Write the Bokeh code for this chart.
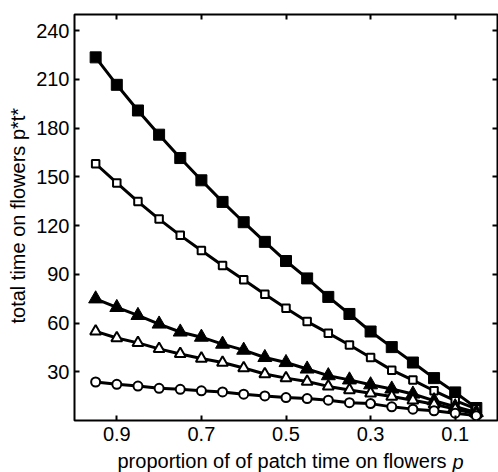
import math
from bokeh.plotting import figure
from bokeh.models import Range1d, FixedTicker, LinearAxis, Label, CustomJSTickFormatter
from bokeh.embed import file_html
from bokeh.resources import INLINE

# ---- data ----
p_values = [0.95, 0.90, 0.85, 0.80, 0.75, 0.70, 0.65, 0.60, 0.55, 0.50,
            0.45, 0.40, 0.35, 0.30, 0.25, 0.20, 0.15, 0.10, 0.05]
filled_squares = [223.6, 206.7, 190.9, 176.0, 161.6, 147.9, 134.6, 122.1, 110.0, 98.2,
                  87.5, 76.1, 65.6, 54.8, 45.2, 35.7, 26.1, 17.3, 7.7]
open_squares = [158.1, 146.3, 134.8, 124.0, 114.0, 104.7, 95.5, 86.7, 77.8, 69.1,
                60.9, 53.8, 46.5, 38.8, 31.0, 24.9, 18.3, 12.2, 7.1]
filled_triangles = [74.9, 69.6, 64.7, 59.4, 54.5, 51.3, 47.0, 43.3, 38.8, 35.7,
                    31.7, 27.6, 25.0, 22.0, 19.4, 16.3, 12.2, 8.5, 5.0]
open_triangles = [54.9, 50.8, 47.8, 44.1, 41.0, 38.2, 35.7, 32.3, 28.6, 26.1,
                  24.0, 21.0, 18.8, 16.8, 14.8, 12.5, 10.0, 7.0, 4.0]
open_circles = [23.7, 22.3, 21.2, 19.8, 19.2, 18.3, 17.6, 16.2, 15.1, 14.1,
                13.5, 12.5, 11.0, 10.4, 8.4, 7.0, 6.0, 4.5, 3.0]

x_ticks = [0.1, 0.3, 0.5, 0.7, 0.9]
y_ticks = [30, 60, 90, 120, 150, 180, 210, 240]

FONT = "Liberation Sans"
FS = "20px"

p = figure(width=498, height=472, output_backend="svg", toolbar_location=None,
           x_range=Range1d(1.0, 0.0), y_range=Range1d(0, 250),
           min_border_left=74, min_border_right=1, min_border_top=14, min_border_bottom=52,
           background_fill_color="white", border_fill_color="white")
p.xgrid.visible = False
p.ygrid.visible = False
p.outline_line_color = "black"
p.outline_line_width = 2

for ax, ticks, so in ((p.xaxis[0], x_ticks, 6), (p.yaxis[0], y_ticks, 5)):
    ax.ticker = FixedTicker(ticks=ticks)
    ax.major_tick_in = 5
    ax.major_tick_out = 0
    ax.major_tick_line_width = 2
    ax.minor_tick_line_color = None
    ax.axis_line_color = None
    ax.major_label_text_font = FONT
    ax.major_label_text_font_size = FS
    ax.major_label_text_color = "black"
    ax.major_label_standoff = so

empty = CustomJSTickFormatter(code="return ''")
top = LinearAxis(ticker=FixedTicker(ticks=x_ticks), formatter=empty,
                 major_tick_in=5, major_tick_out=0, major_tick_line_width=2,
                 minor_tick_line_color=None, axis_line_color=None, major_label_standoff=0)
right = LinearAxis(ticker=FixedTicker(ticks=y_ticks), formatter=empty,
                   major_tick_in=5, major_tick_out=0, major_tick_line_width=2,
                   minor_tick_line_color=None, axis_line_color=None, major_label_standoff=0)
p.add_layout(top, "above")
p.add_layout(right, "right")

LW = 3
series = [
    (filled_squares, "square", 11, "black", 1),
    (open_squares, "square", 7.5, "white", 2),
    (filled_triangles, "triangle", 14, "black", 1),
    (open_triangles, "triangle", 11, "white", 2),
    (open_circles, "circle", 9, "white", 2),
]
for ys, marker, size, fill, lw in series:
    p.line(p_values, ys, line_color="black", line_width=LW)
    p.scatter(p_values, ys, marker=marker, size=size, fill_color=fill,
              line_color="black", line_width=lw)

# axis titles, placed in the side panels (not clipped by the frame)
p.add_layout(Label(x=43, y=5, x_units="screen", y_units="screen",
                   text="proportion of of patch time on flowers", text_font=FONT,
                   text_color="black", text_font_size=FS,
                   text_baseline="alphabetic", text_align="left"), "below")
p.add_layout(Label(x=6, y=97, x_units="screen", y_units="screen", angle=math.pi / 2,
                   text="total time on flowers p*t*", text_font=FONT, text_color="black",
                   text_font_size=FS, text_baseline="alphabetic", text_align="left"), "left")
p.add_layout(Label(x=452, y=-41, x_units="screen", y_units="screen",
                   text="p", text_font=FONT, text_font_style="italic", text_color="black",
                   text_font_size=FS, text_baseline="alphabetic", text_align="left"), "left")

open("out.html", "w").write(file_html(p, INLINE))
